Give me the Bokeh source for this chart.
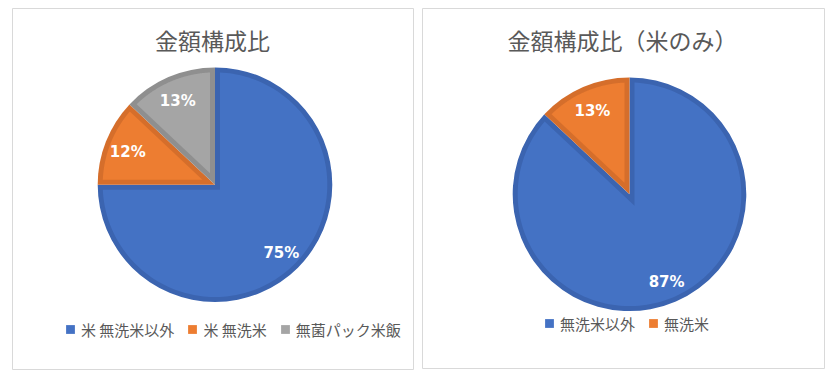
import numpy as np
from bokeh.plotting import figure
from bokeh.models import ColumnDataSource, Range1d, Legend, LegendItem
from bokeh.layouts import row
from bokeh.embed import file_html
from bokeh.resources import INLINE
from bokeh.core.properties import value

# ---- data ----
title_left = "金額構成比"
cats_left = ["米 無洗米以外", "米 無洗米", "無菌パック米飯"]
vals_left = [75, 12, 13]

title_right = "金額構成比（米のみ）"
cats_right = ["無洗米以外", "無洗米"]
vals_right = [87, 13]

# ---- styles ----
FILL = ["#4472C4", "#ED7D31", "#A5A5A5"]
EDGE = ["#3B64B0", "#D56E2B", "#8F8F8F"]
TEXT = "#595959"
JP = "Noto Sans CJK JP"


def make_panel(title, cats, vals, W, H, cx, cy, R, title_x, leg_x, leg_y, margin):
    p = figure(width=W, height=H, title=None, output_backend="svg", toolbar_location=None,
               x_range=Range1d(0, W), y_range=Range1d(0, H), min_border=0,
               x_axis_location=None, y_axis_location=None,
               outline_line_color="#D9D9D9", outline_line_width=1,
               background_fill_color="white", border_fill_color="white")
    p.grid.visible = False
    p.margin = margin

    n = len(vals)
    v = np.array(vals, dtype=float)
    frac = v / v.sum()
    cum = np.concatenate([[0.0], np.cumsum(frac)])
    a_hi = np.pi / 2 - cum[:-1] * 2 * np.pi
    a_lo = np.pi / 2 - cum[1:] * 2 * np.pi

    # outer (border-coloured) wedges
    src = ColumnDataSource(dict(a0=a_lo, a1=a_hi, edge=EDGE[:n], cat=cats))
    p.wedge(x=cx, y=cy, radius=R, start_angle="a0", end_angle="a1",
            fill_color="edge", line_color=None, source=src)

    # inset fills (Excel-style inner border)
    w = 5.0
    r = R - w
    xs, ys = [], []
    for lo, hi in zip(a_lo, a_hi):
        th = hi - lo
        b = (lo + hi) / 2
        d = w / np.sin(th / 2)
        dl = np.arcsin(w / r)
        phi = np.linspace(lo + dl, hi - dl, 160)
        xs.append(np.concatenate([[cx + d * np.cos(b)], cx + r * np.cos(phi)]))
        ys.append(np.concatenate([[cy + d * np.sin(b)], cy + r * np.sin(phi)]))
    psrc = ColumnDataSource(dict(xs=xs, ys=ys, fill=FILL[:n]))
    p.patches(xs="xs", ys="ys", fill_color="fill", line_color=None, source=psrc)

    # data labels
    mid = (a_lo + a_hi) / 2
    lr = 0.8 * R
    lsrc = ColumnDataSource(dict(x=cx + lr * np.cos(mid), y=cy + lr * np.sin(mid) - 2,
                                 t=[f"{round(f * 100)}%" for f in frac]))
    p.text(x="x", y="y", text="t", source=lsrc, text_align="center", text_baseline="middle",
           text_color="white", text_font=value("DejaVu Sans"), text_font_style="bold",
           text_font_size="15px")

    # title
    p.text(x=[title_x], y=[H - 31], text=[title], text_align="center", text_baseline="middle",
           text_color=TEXT, text_font=value(JP), text_font_size="23px")

    # legend
    gsrc = ColumnDataSource(dict(x=[np.nan] * n, y=[np.nan] * n, c=FILL[:n]))
    sr = p.scatter(x="x", y="y", marker="square", size=8, fill_color="c", line_color=None, source=gsrc)
    items = [LegendItem(label=c, renderers=[sr], index=i) for i, c in enumerate(cats)]
    leg = Legend(items=items, location=(leg_x, leg_y), orientation="horizontal",
                 border_line_color=None, background_fill_alpha=0, padding=0, margin=0,
                 spacing=7, glyph_width=22, glyph_height=22, label_height=22,
                 label_standoff=-3, label_text_font=JP, label_text_font_size="15px",
                 label_text_color=TEXT, label_text_baseline="middle")
    p.add_layout(leg, "center")
    return p


p1 = make_panel(title_left, cats_left, vals_left, 402, 362, 202.5, 185.8, 117.3,
                200, 47, 30, (8, 0, 0, 12))
p2 = make_panel(title_right, cats_right, vals_right, 403, 361, 207, 175.2, 116.8,
                200, 116, 35, (8, 0, 0, 8))

layout = row(p1, p2)
open("out.html", "w").write(file_html(layout, INLINE))
